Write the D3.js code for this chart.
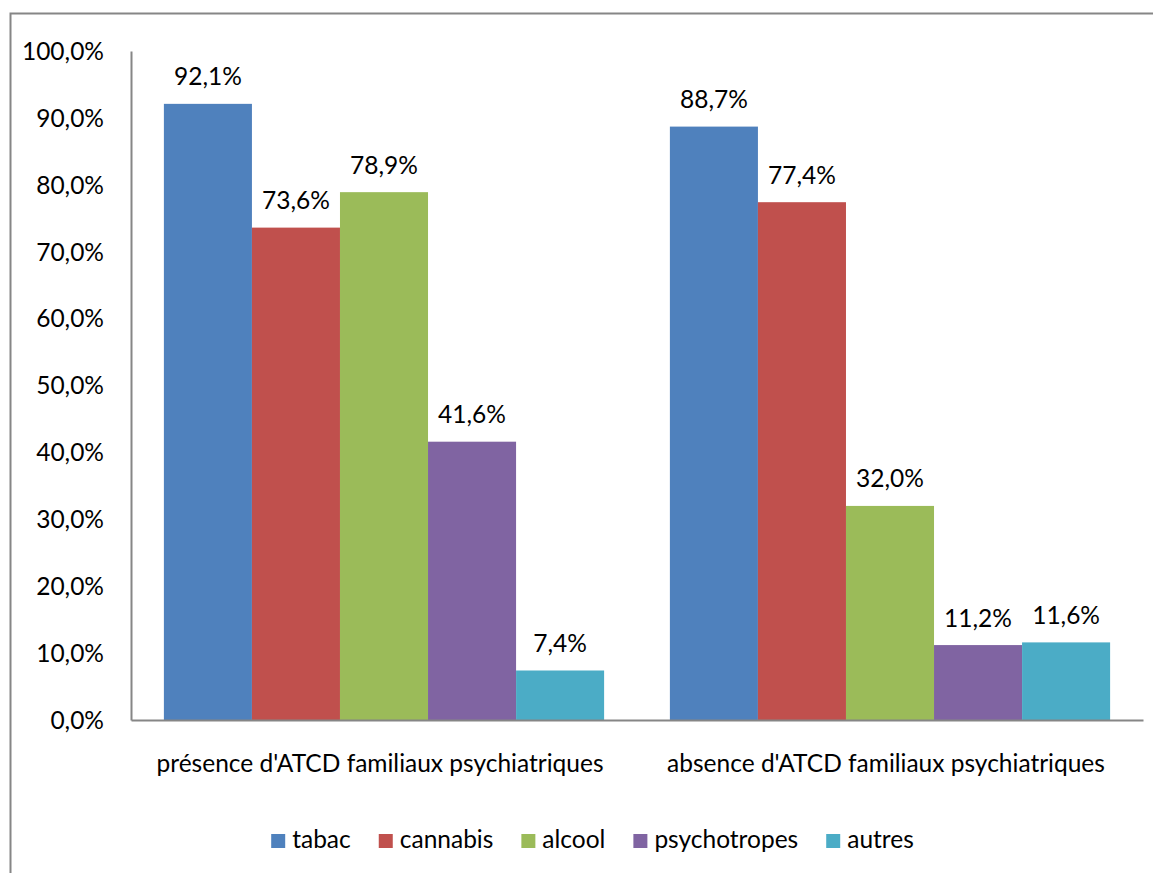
<!DOCTYPE html>
<html>
<head>
<meta charset="utf-8">
<style>
    body { margin: 0; background: #fff; overflow: hidden; }
    svg { display: block; }
    svg text { font-family: Lato, "Open Sans", sans-serif; fill: #000; }
</style>
</head>
<body>
<svg id="chart" width="1153" height="873"></svg>
<script src="https://d3js.org/d3.v7.min.js"></script>
<script>
    // data
    var groups = ["présence d'ATCD familiaux psychiatriques", "absence d'ATCD familiaux psychiatriques"];
    var series = ["tabac", "cannabis", "alcool", "psychotropes", "autres"];
    var colors = ["#4F81BD", "#C0504D", "#9BBB59", "#8064A2", "#4BACC6"];
    var presence = [92.1, 73.6, 78.9, 41.6, 7.4];
    var absence = [88.7, 77.4, 32.0, 11.2, 11.6];
    var yTicks = [0, 10, 20, 30, 40, 50, 60, 70, 80, 90, 100];

    var rows = [presence, absence];

    var svg = d3.select('#chart');
    var fontSize = 24.5;
    var axisColor = '#868686';

    // outer frame: only the top and left edges show
    svg.append('path')
        .attr('d', 'M10.5,873V13.5H1153')
        .attr('fill', 'none')
        .attr('stroke', axisColor)
        .attr('stroke-width', 2);

    var margin = {left: 131, right: 1143, top: 51, bottom: 720};

    var x0 = d3.scaleBand()
        .domain(groups)
        .range([margin.left, margin.right])
        .paddingInner(0.13)
        .paddingOuter(0.065);

    var x1 = d3.scaleBand()
        .domain(series)
        .range([0, x0.bandwidth()]);

    var color = d3.scaleOrdinal().domain(series).range(colors);

    var y = d3.scaleLinear().domain([0, 100]).range([margin.bottom, margin.top]);

    var fmt = function(v) { return v.toFixed(1).replace('.', ',') + '%'; };

    // bars
    var g = svg.selectAll('g.group')
        .data(groups)
        .enter().append('g')
        .attr('class', 'group')
        .attr('transform', function(d) { return 'translate(' + x0(d) + ',0)'; });

    g.selectAll('rect')
        .data(function(d, i) { return series.map(function(s, j) { return {s: s, v: rows[i][j]}; }); })
        .enter().append('rect')
        .attr('x', function(d) { return x1(d.s); })
        .attr('y', function(d) { return y(d.v); })
        .attr('width', x1.bandwidth())
        .attr('height', function(d) { return y(0) - y(d.v); })
        .attr('fill', function(d) { return color(d.s); });

    // data labels
    g.selectAll('text.lbl')
        .data(function(d, i) { return series.map(function(s, j) { return {s: s, v: rows[i][j]}; }); })
        .enter().append('text')
        .attr('class', 'lbl')
        .attr('x', function(d) { return x1(d.s) + x1.bandwidth() / 2; })
        .attr('y', function(d) { return y(d.v) - 18.5; })
        .attr('text-anchor', 'middle')
        .style('font-size', fontSize + 'px')
        .text(function(d) { return fmt(d.v); });

    // y axis
    var yAxis = d3.axisLeft(y)
        .tickValues(yTicks)
        .tickSize(0)
        .tickPadding(27)
        .tickFormat(fmt);

    var yg = svg.append('g')
        .attr('transform', 'translate(' + margin.left + ',0)')
        .call(yAxis);
    yg.select('.domain').attr('stroke', axisColor).attr('stroke-width', 2);
    yg.selectAll('text')
        .attr('dy', '0.34em')
        .style('font-size', fontSize + 'px')
        .style('font-family', 'Lato, "Open Sans", sans-serif');

    // x axis
    var xAxis = d3.axisBottom(x0).tickSize(0).tickSizeOuter(0);
    var xg = svg.append('g')
        .attr('transform', 'translate(0,' + margin.bottom + ')')
        .call(xAxis);
    xg.select('.domain').attr('stroke', axisColor).attr('stroke-width', 2);
    xg.selectAll('text')
        .attr('y', 52)
        .attr('dy', 0)
        .attr('dx', -4)
        .style('font-size', fontSize + 'px')
        .style('font-family', 'Lato, "Open Sans", sans-serif');

    // legend, centred
    var legend = svg.append('g');
    var sq = 14, gapText = 7, gapItem = 28, cx = 0;
    series.forEach(function(s) {
        var item = legend.append('g').attr('transform', 'translate(' + cx + ',0)');
        item.append('rect')
            .attr('x', 0).attr('y', 834)
            .attr('width', sq).attr('height', sq)
            .attr('fill', color(s));
        var t = item.append('text')
            .attr('x', sq + gapText).attr('y', 848)
            .style('font-size', fontSize + 'px')
            .text(s);
        cx += sq + gapText + t.node().getComputedTextLength() + gapItem;
    });
    var legendWidth = cx - gapItem;
    legend.attr('transform', 'translate(' + (592.5 - legendWidth / 2) + ',0)');
</script>
</body>
</html>
